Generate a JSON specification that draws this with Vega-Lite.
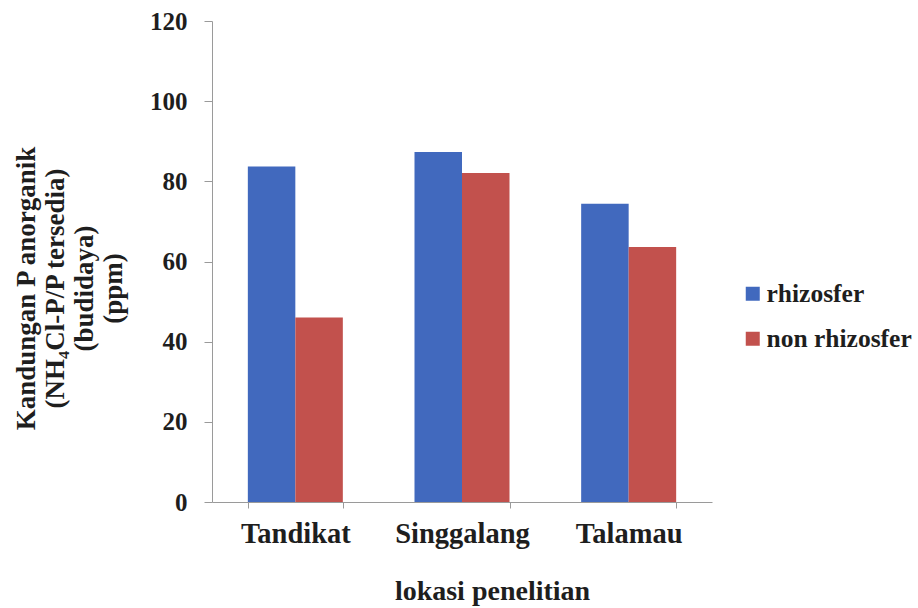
{
  "$schema": "https://vega.github.io/schema/vega-lite/v6.json",
  "autosize": "none",
  "width": 500,
  "height": 481,
  "padding": {"left": 212, "top": 21, "right": 206, "bottom": 106},
  "background": "white",
  "config": {
    "font": "Liberation Serif",
    "view": {"stroke": null},
    "axis": {
      "labelFont": "Liberation Serif",
      "titleFont": "Liberation Serif",
      "labelFontWeight": "bold",
      "titleFontWeight": "bold",
      "labelColor": "#1e1e1e",
      "titleColor": "#1e1e1e",
      "domainColor": "#9a9a9a",
      "tickColor": "#9a9a9a",
      "grid": false
    },
    "legend": {
      "labelFont": "Liberation Serif",
      "labelFontWeight": "bold",
      "labelColor": "#1e1e1e"
    }
  },
  "data": {
    "values": [
      {"lokasi": "Tandikat", "jenis": "rhizosfer", "nilai": 83.7},
      {"lokasi": "Tandikat", "jenis": "non rhizosfer", "nilai": 46.0},
      {"lokasi": "Singgalang", "jenis": "rhizosfer", "nilai": 87.3},
      {"lokasi": "Singgalang", "jenis": "non rhizosfer", "nilai": 82.1},
      {"lokasi": "Talamau", "jenis": "rhizosfer", "nilai": 74.4},
      {"lokasi": "Talamau", "jenis": "non rhizosfer", "nilai": 63.6}
    ]
  },
  "mark": {"type": "bar"},
  "encoding": {
    "x": {
      "field": "lokasi",
      "type": "nominal",
      "sort": ["Tandikat", "Singgalang", "Talamau"],
      "scale": {"paddingInner": 0.43, "paddingOuter": 0.215},
      "axis": {
        "title": "lokasi penelitian",
        "labelAngle": 0,
        "labelFontSize": 28.5,
        "labelPadding": 11,
        "tickSize": 6,
        "tickBand": "extent",
        "titleFontSize": 28,
        "titleX": 280,
        "titleY": 89,
        "titleAlign": "center",
        "titleBaseline": "middle"
      }
    },
    "xOffset": {
      "field": "jenis",
      "type": "nominal",
      "sort": ["rhizosfer", "non rhizosfer"],
      "scale": {"paddingInner": 0}
    },
    "y": {
      "field": "nilai",
      "type": "quantitative",
      "scale": {"domain": [0, 120], "nice": false},
      "axis": {
        "values": [0, 20, 40, 60, 80, 100, 120],
        "title": ["Kandungan P anorganik", "(NH₄Cl-P/P tersedia)", "(budidaya)", "(ppm)"],
        "labelFontSize": 25,
        "labelPadding": 17,
        "tickSize": 8,
        "titleFontSize": 27,
        "titleLineHeight": 29,
        "titlePadding": 22,
        "titleY": 267
      }
    },
    "color": {
      "field": "jenis",
      "type": "nominal",
      "sort": ["rhizosfer", "non rhizosfer"],
      "scale": {"domain": ["rhizosfer", "non rhizosfer"], "range": ["#4169BE", "#C2514D"]},
      "legend": {
        "title": null,
        "orient": "none",
        "legendX": 528,
        "legendY": 260,
        "padding": 0,
        "symbolType": "square",
        "symbolSize": 196,
        "symbolStrokeWidth": 0,
        "labelFontSize": 25.5,
        "labelOffset": 1,
        "rowPadding": 18
      }
    }
  }
}
